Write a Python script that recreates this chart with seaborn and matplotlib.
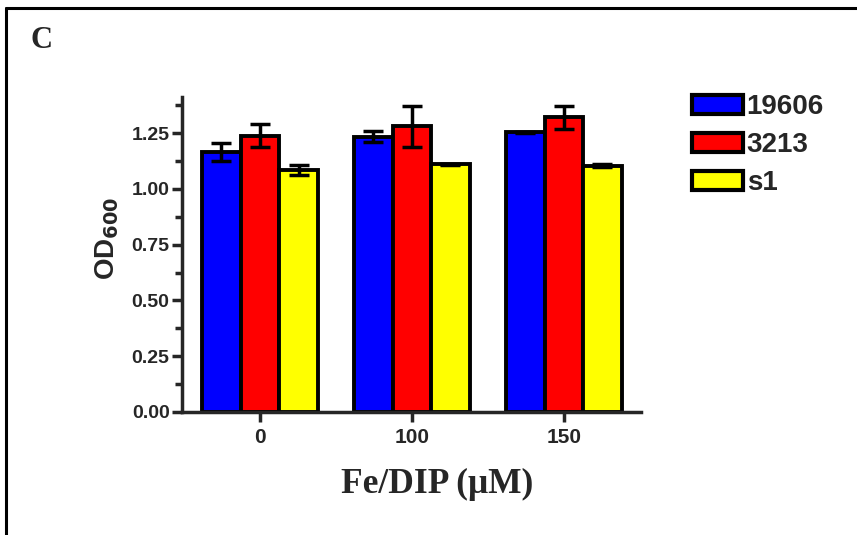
import matplotlib
matplotlib.use("Agg")
import matplotlib.pyplot as plt
import seaborn as sns
import pandas as pd
import numpy as np
from matplotlib.lines import Line2D
from matplotlib.patches import Patch
from matplotlib.ticker import MultipleLocator

concentrations = ["0", "100", "150"]
strains = ["19606", "3213", "s1"]
colors = ["#0000FF", "#FF0000", "#FFFF00"]
mean_19606 = [1.166, 1.235, 1.254]
mean_3213 = [1.240, 1.281, 1.321]
mean_s1 = [1.086, 1.111, 1.105]
err_19606 = [0.042, 0.026, 0.002]
err_3213 = [0.052, 0.092, 0.052]
err_s1 = [0.021, 0.002, 0.008]

means = [mean_19606, mean_3213, mean_s1]
errs = [err_19606, err_3213, err_s1]

rows = []
for s, m in zip(strains, means):
    for c, v in zip(concentrations, m):
        rows.append({"conc": c, "strain": s, "od": v})
df = pd.DataFrame(rows)

sns.set_style("ticks")
plt.rcParams["font.family"] = ["Liberation Sans", "DejaVu Sans"]

fig = plt.figure(figsize=(8.57, 5.35), dpi=100)
ax = fig.add_axes([0.2124, 1 - 411.7 / 535, 0.748 - 0.2124, (411.7 - 97) / 535])

sns.barplot(data=df, x="conc", y="od", hue="strain", order=concentrations,
            hue_order=strains, palette=colors, errorbar=None, width=0.76,
            gap=0, edgecolor="black", linewidth=2.8, saturation=1, ax=ax,
            legend=False)

for cont, e in zip(ax.containers, errs):
    for bar, ev in zip(cont.patches, e):
        xc = bar.get_x() + bar.get_width() / 2
        ax.errorbar(xc, bar.get_height(), yerr=ev, fmt="none", ecolor="black",
                    elinewidth=2.5, capsize=7.5, capthick=2.5, zorder=5)

ax.set_xlim(-0.513, 2.507)
ax.set_ylim(0, 1.413)
ax.yaxis.set_major_locator(MultipleLocator(0.25))
ax.yaxis.set_minor_locator(MultipleLocator(0.125))
ax.set_yticks(np.arange(0, 1.26, 0.25))
ax.set_yticklabels([f"{v:.2f}" for v in np.arange(0, 1.26, 0.25)])
sns.despine(ax=ax)
for sp in ["left", "bottom"]:
    ax.spines[sp].set_linewidth(2.5)
ax.tick_params(axis="both", which="major", width=2.5, length=7, pad=2)
ax.tick_params(axis="y", which="major", labelsize=14)
ax.tick_params(axis="x", which="major", labelsize=15, pad=5)
ax.tick_params(axis="y", which="minor", width=2.5, length=5)
for lab in ax.get_xticklabels() + ax.get_yticklabels():
    lab.set_fontweight("bold")

ax.set_ylabel("OD$_{\\mathbf{600}}$", fontsize=20, fontweight="bold", labelpad=6)
ax.yaxis.set_label_coords(-0.134, (411.7 - 238) / 314.7)
ax.set_xlabel("Fe/DIP (\u03bcM)", fontsize=25.5, fontweight="bold",
              family=["Liberation Serif", "DejaVu Serif"], labelpad=15)
ax.xaxis.label.set_x((437 - 182) / 459)

handles = [Patch(facecolor=c, edgecolor="black", linewidth=3, label=s)
           for c, s in zip(colors, strains)]
leg = fig.legend(handles=handles, loc="upper left", bbox_to_anchor=(692 / 857, 1 - 94 / 535),
                 frameon=False, prop={"weight": "bold", "size": 20},
                 handlelength=1.85, handleheight=0.68, handletextpad=0.12,
                 labelspacing=0.43, borderaxespad=0, borderpad=0)

fig.text(42 / 857, 1 - 41 / 535, "C", fontsize=22, fontweight="bold",
         family=["Liberation Serif", "DejaVu Serif"], ha="center", va="center")

fig.add_artist(Line2D([6 / 857, 6 / 857], [0, 1 - 8 / 535], color="black", lw=2.2,
                      transform=fig.transFigure))
fig.add_artist(Line2D([6 / 857, 1], [1 - 8 / 535, 1 - 8 / 535], color="black", lw=2.2,
                      transform=fig.transFigure))

fig.savefig("out.png", dpi=100)
